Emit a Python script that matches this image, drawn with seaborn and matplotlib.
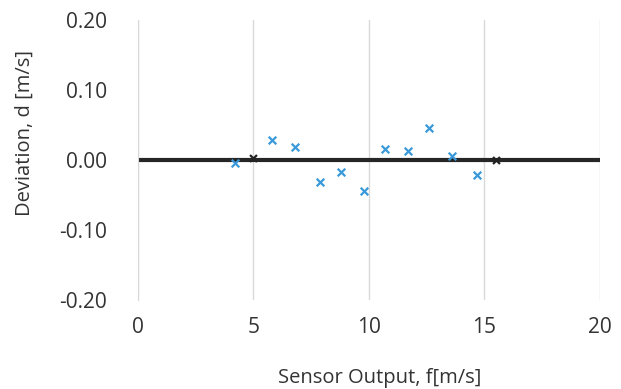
import pandas as pd
import matplotlib.pyplot as plt
import seaborn as sns

# Data
sensor_output = [4.2, 5.8, 6.8, 7.9, 8.8, 9.8, 10.7, 11.7, 12.6, 13.6, 14.7]
deviation = [-0.005, 0.029, 0.018, -0.032, -0.017, -0.044, 0.015, 0.012, 0.045, 0.005, -0.021]

ref_output = [5.0, 15.5]
ref_deviation = [0.003, 0.0]

zero_x = [0, 20]
zero_y = [0.0, 0.0]

sns.set_style("white")
plt.rcParams["font.family"] = ["Open Sans", "DejaVu Sans"]

fig = plt.figure(figsize=(6.21, 3.89), dpi=100)
ax = fig.add_axes([0.222, 0.229, 0.744, 0.72])

df = pd.DataFrame({"f": sensor_output, "d": deviation})
ref = pd.DataFrame({"f": ref_output, "d": ref_deviation})
line = pd.DataFrame({"f": zero_x, "d": zero_y})

sns.lineplot(data=line, x="f", y="d", ax=ax, color="#262626", linewidth=3, zorder=2)
sns.scatterplot(data=df, x="f", y="d", ax=ax, marker="x", color="#3a9ad9",
                s=30, linewidth=1.6, zorder=3)
sns.scatterplot(data=ref, x="f", y="d", ax=ax, marker="x", color="#222222",
                s=25, linewidth=1.6, zorder=3)

ax.set_xlim(0, 20)
ax.set_ylim(-0.2, 0.2)
ax.set_xticks([0, 5, 10, 15, 20])
ax.set_yticks([-0.2, -0.1, 0.0, 0.1, 0.2])
ax.set_yticklabels(["-0.20", "-0.10", "0.00", "0.10", "0.20"])

ax.xaxis.grid(True, color="#d9d9d9", linewidth=1)
ax.yaxis.grid(False)
for side in ["top", "right", "bottom"]:
    ax.spines[side].set_visible(False)
ax.spines["left"].set_color("#d9d9d9")

ax.tick_params(axis="both", labelsize=15, colors="#333333", length=0)
ax.tick_params(axis="x", pad=12)
ax.tick_params(axis="y", pad=22)

ax.set_xlabel("Sensor Output, f[m/s]", fontsize=14.5, color="#333333")
ax.set_ylabel("Deviation, d [m/s]", fontsize=14.5, color="#333333")
ax.xaxis.set_label_coords(0.524, -0.243)
ax.yaxis.set_label_coords(-0.223, 0.596)

fig.savefig("out.png", dpi=100)
